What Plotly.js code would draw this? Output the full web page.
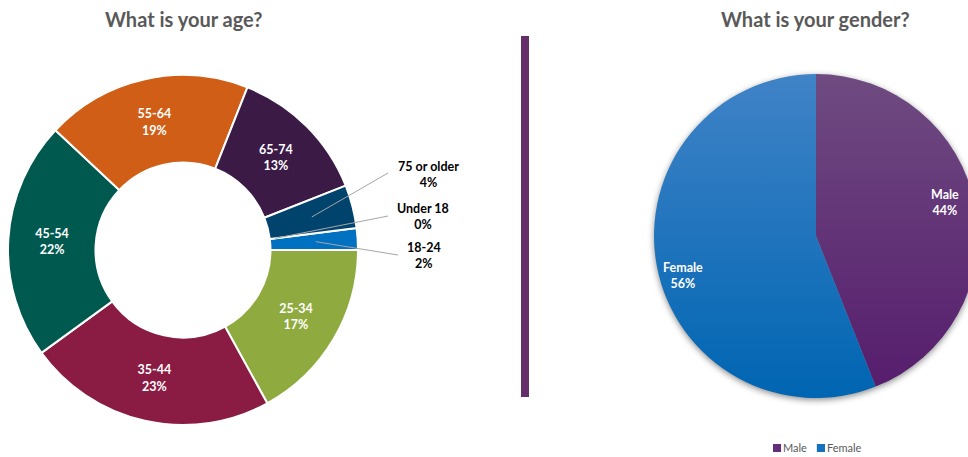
<!DOCTYPE html>
<html><head><meta charset="utf-8">
<script src="https://cdn.plot.ly/plotly-3.0.1.min.js"></script>
<style>html,body{margin:0;padding:0;overflow:hidden;background:#fff;}#chart{width:990px;height:457px;}</style>
</head><body><div id="chart"></div>
<script>
// ---- data ----
const ageLabels = ['Under 18','18-24','25-34','35-44','45-54','55-64','65-74','75 or older'];
const ageValues = [0, 2, 17, 23, 22, 19, 13, 4];
const ageColors = ['#2E75B6','#0070C0','#8FAB3F','#8A1C43','#00594F','#D05E16','#3B1A45','#00446E'];
const genderLabels = ['Male','Female'];
const genderValues = [44, 56];
const genderColors = ['#612E77','#1672BE'];
const chartTitles = ['What is your age?','What is your gender?'];

// ---- layout constants (pixels) ----
const W = 990, H = 457;
const ageCx = 183, ageCy = 250, ageR = 175, ageRotation = 82.8;
const genCx = 816, genCy = 236, genR = 162;
const px = x => x / W, py = y => 1 - y / H;
const FONT = 'Lato, "Open Sans", sans-serif';

// small slices get outside labels with leader lines
const outsideCfg = {
  7: {frac: 0.76, tail: [388, 173], text: [428, 174]},
  0: {frac: 0.53, tail: [388, 216], text: [423, 217]},
  1: {frac: 0.76, tail: [398, 255], text: [424, 255]}
};
const genderTextPos = [[945, 202], [683, 275]];

const ageTotal = ageValues.reduce((a, b) => a + b, 0);
const genTotal = genderValues.reduce((a, b) => a + b, 0);

const ageTemplates = ageValues.map((v, i) => outsideCfg[i] ? '' : '%{label}<br>%{value}%');

const traces = [
  {
    type: 'pie', labels: ageLabels, values: ageValues, sort: false, direction: 'clockwise',
    rotation: ageRotation, hole: 0.5,
    domain: {x: [px(ageCx - ageR), px(ageCx + ageR)], y: [py(ageCy + ageR), py(ageCy - ageR)]},
    marker: {colors: ageColors, line: {color: '#ffffff', width: 2}},
    texttemplate: ageTemplates, textposition: 'inside', insidetextorientation: 'horizontal',
    insidetextfont: {family: FONT, size: 12.5, color: '#ffffff', weight: 'bold'},
    showlegend: false, hoverinfo: 'label+percent'
  },
  {
    type: 'pie', labels: genderLabels, values: genderValues, sort: false, direction: 'clockwise',
    rotation: 0,
    domain: {x: [px(genCx - genR), px(genCx + genR)], y: [py(genCy + genR), py(genCy - genR)]},
    marker: {colors: genderColors, line: {width: 0}},
    textinfo: 'none', showlegend: true, hoverinfo: 'label+percent'
  }
];

const annotations = [];
// titles
annotations.push({text: '<b>' + chartTitles[0] + '</b>', x: px(184), y: py(19), xref: 'paper', yref: 'paper',
  showarrow: false, xanchor: 'center', yanchor: 'middle', font: {family: FONT, size: 20, color: '#595959'}});
annotations.push({text: '<b>' + chartTitles[1] + '</b>', x: px(815), y: py(19), xref: 'paper', yref: 'paper',
  showarrow: false, xanchor: 'center', yanchor: 'middle', font: {family: FONT, size: 20, color: '#595959'}});

const shapes = [];
// divider
shapes.push({type: 'rect', xref: 'paper', yref: 'paper', x0: px(521), x1: px(529), y0: py(397), y1: py(36),
  fillcolor: '#662D6B', line: {width: 0}});

// outside labels for small age slices
let cum = 0;
ageValues.forEach((v, i) => {
  const start = cum; cum += v;
  const cfg = outsideCfg[i];
  if (!cfg) return;
  const mid = (start + v / 2) / ageTotal * 360 + ageRotation;
  const a = mid * Math.PI / 180;
  const hx = ageCx + ageR * cfg.frac * Math.sin(a);
  const hy = ageCy - ageR * cfg.frac * Math.cos(a);
  shapes.push({type: 'line', xref: 'paper', yref: 'paper', x0: px(hx), y0: py(hy),
    x1: px(cfg.tail[0]), y1: py(cfg.tail[1]), line: {color: '#A6A6A6', width: 1}});
  annotations.push({text: '<b>' + ageLabels[i] + '<br>' + Math.round(v / ageTotal * 100) + '%</b>',
    x: px(cfg.text[0]), y: py(cfg.text[1]), xref: 'paper', yref: 'paper', showarrow: false,
    xanchor: 'center', yanchor: 'middle', font: {family: FONT, size: 12.5, color: '#000000'}});
});

// gender labels
genderValues.forEach((v, i) => {
  annotations.push({text: '<b>' + genderLabels[i] + '<br>' + Math.round(v / genTotal * 100) + '%</b>',
    x: px(genderTextPos[i][0]), y: py(genderTextPos[i][1]), xref: 'paper', yref: 'paper', showarrow: false,
    xanchor: 'center', yanchor: 'middle', font: {family: FONT, size: 12.5, color: '#ffffff'}});
});

const layout = {
  width: W, height: H, margin: {l: 0, r: 0, t: 0, b: 0, autoexpand: false},
  paper_bgcolor: '#ffffff', plot_bgcolor: '#ffffff',
  font: {family: FONT},
  showlegend: true,
  legend: {orientation: 'h', x: px(817), y: py(448), xanchor: 'center', yanchor: 'middle',
    font: {family: FONT, size: 11, color: '#595959'}, itemwidth: 30, tracegroupgap: 0},
  annotations: annotations, shapes: shapes
};

Plotly.newPlot('chart', traces, layout, {staticPlot: true}).then(gd => {
  const traceGroups = gd.querySelectorAll('.pielayer .trace');
  if (traceGroups.length > 1) {
    const g = traceGroups[1];
    g.style.filter = 'drop-shadow(0px 2px 3px rgba(0,0,0,0.45))';
    const svg = gd.querySelector('svg.main-svg');
    const ns = 'http://www.w3.org/2000/svg';
    let defs = svg.querySelector('defs');
    if (!defs) { defs = document.createElementNS(ns, 'defs'); svg.insertBefore(defs, svg.firstChild); }
    const grads = [['gMale', '#6F4B81', '#561D6D'], ['gFemale', '#4083C7', '#0065B2']];
    grads.forEach(([id, c1, c2]) => {
      const lg = document.createElementNS(ns, 'linearGradient');
      lg.setAttribute('id', id); lg.setAttribute('x1', '0'); lg.setAttribute('y1', '0');
      lg.setAttribute('x2', '0'); lg.setAttribute('y2', '1');
      [[0, c1], [1, c2]].forEach(([o, c]) => {
        const s = document.createElementNS(ns, 'stop');
        s.setAttribute('offset', o); s.setAttribute('stop-color', c); lg.appendChild(s);
      });
      defs.appendChild(lg);
    });
    g.querySelectorAll('path.surface').forEach((p, i) => {
      p.style.fill = 'url(#' + grads[i][0] + ')';
    });
  }
  // compact legend entries (small square, tight gap) like the reference
  const leg = gd.querySelector('g.legend');
  if (leg) {
    const items = leg.querySelectorAll('g.traces');
    let xpos = 0, yItem = 0;
    items.forEach((it, k) => {
      const m = /translate\(\s*([-\d.]+)[ ,]+([-\d.]+)/.exec(it.getAttribute('transform') || '');
      if (m && k === 0) yItem = parseFloat(m[2]);
      const t = it.querySelector('text.legendtext');
      const p = it.querySelectorAll('path.legendpie');
      p.forEach(pp => pp.setAttribute('transform', 'translate(4,0) scale(0.68)'));
      if (t) t.setAttribute('x', 10);
      it.setAttribute('transform', 'translate(' + xpos + ',' + yItem + ')');
      xpos += (t ? t.getComputedTextLength() : 30) + 20;
    });
    const lm = /translate\(\s*([-\d.]+)[ ,]+([-\d.]+)/.exec(leg.getAttribute('transform') || '');
    const ly = lm ? parseFloat(lm[2]) : 438;
    leg.setAttribute('transform', 'translate(773,' + ly + ')');
  }
});
</script>
</body></html>
